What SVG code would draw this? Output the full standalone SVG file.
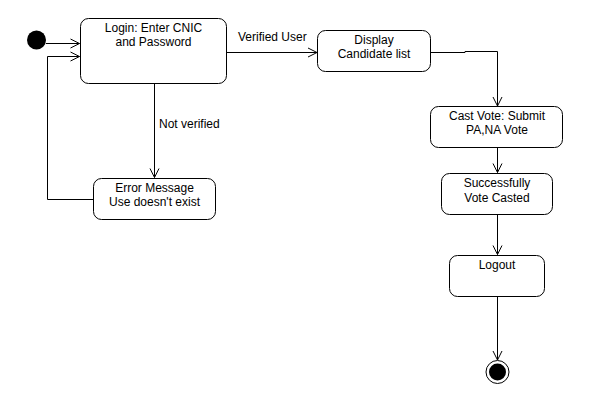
<svg xmlns="http://www.w3.org/2000/svg" width="591" height="405" viewBox="0 0 591 405">
<defs>
<marker id="arr" markerUnits="userSpaceOnUse" markerWidth="12" markerHeight="12" viewBox="0 0 12 12" refX="10" refY="6" orient="auto">
<path d="M1,1.5 L10,6 L1,10.5" fill="none" stroke="#000" stroke-width="1"/>
</marker>
</defs>
<style>
.box{fill:#fff;stroke:#000;stroke-width:1}
.t{font-family:"Liberation Sans",Arial,sans-serif;font-size:12px;fill:#000;text-anchor:middle}
.l{font-family:"Liberation Sans",Arial,sans-serif;font-size:12px;fill:#000}
.c{fill:none;stroke:#000;stroke-width:1}
</style>
<rect width="591" height="405" fill="#fff"/>
<g id="connectors">
<path class="c" d="M46,43.5 H79.5" marker-end="url(#arr)"/>
<path class="c" d="M93,199.5 H47.5 V56.5 H79.5" marker-end="url(#arr)"/>
<path class="c" d="M227,52.5 H317" marker-end="url(#arr)"/>
<path class="c" d="M154.5,83 V177.5" marker-end="url(#arr)"/>
<path class="c" d="M431,52.5 H465 V51.5 H497.5 V106" marker-end="url(#arr)"/>
<path class="c" d="M497.5,148 V172.5" marker-end="url(#arr)"/>
<path class="c" d="M497.5,215 V254.5" marker-end="url(#arr)"/>
<path class="c" d="M497.5,297 V360" marker-end="url(#arr)"/>
<text class="l" x="238" y="41">Verified User</text>
<text class="l" x="159" y="128">Not verified</text>
</g>
<g id="start"><circle cx="36.5" cy="40" r="9.5" fill="#000"/></g>
<g id="login">
<rect class="box" x="80.5" y="18.5" width="146" height="65" rx="8"/>
<text class="t" x="153.5" y="32">Login: Enter CNIC</text>
<text class="t" x="153.5" y="46">and Password</text>
</g>
<g id="display">
<rect class="box" x="317.5" y="30.5" width="113" height="41" rx="8"/>
<text class="t" x="374" y="44">Display</text>
<text class="t" x="374" y="58">Candidate list</text>
</g>
<g id="error">
<rect class="box" x="93.5" y="178.5" width="122" height="41" rx="8"/>
<text class="t" x="154.5" y="192">Error Message</text>
<text class="t" x="154.5" y="206">Use doesn't exist</text>
</g>
<g id="cast">
<rect class="box" x="430.5" y="106.5" width="132" height="41" rx="8"/>
<text class="t" x="497" y="120">Cast Vote: Submit</text>
<text class="t" x="497" y="134">PA,NA Vote</text>
</g>
<g id="success">
<rect class="box" x="441.5" y="173.5" width="111" height="41" rx="8"/>
<text class="t" x="497" y="187">Successfully</text>
<text class="t" x="497" y="202">Vote Casted</text>
</g>
<g id="logout">
<rect class="box" x="449.5" y="255.5" width="95" height="41" rx="8"/>
<text class="t" x="497" y="269">Logout</text>
</g>
<g id="end">
<circle cx="497.5" cy="372" r="11.5" fill="#fff" stroke="#000" stroke-width="1"/>
<circle cx="497.5" cy="372" r="8.5" fill="#000"/>
</g>
</svg>
